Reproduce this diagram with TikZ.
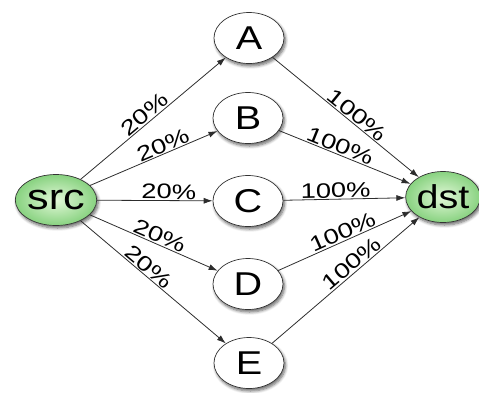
\documentclass[tikz,border=0pt]{standalone}
\usepackage{fontspec}
\setmainfont{Liberation Sans}
\newfontfamily\nodefont[FakeStretch=1.2]{Liberation Sans}
\newfontfamily\lblfont[FakeStretch=1.3]{Liberation Sans}
\usetikzlibrary{shapes.geometric, arrows.meta, shadows.blur}

\definecolor{gin}{RGB}{226,248,216}
\definecolor{gout}{RGB}{136,210,128}
\definecolor{edgegray}{RGB}{45,45,45}

\begin{document}
\begin{tikzpicture}[x=1pt, y=-1pt,
  vertex/.style={ellipse, draw=black!80, line width=0.7pt,
    minimum width=70pt, minimum height=51pt, inner sep=0pt, fill=white,
    blur shadow={shadow xshift=1.5pt, shadow yshift=-2.5pt,
      shadow blur steps=6, shadow blur radius=3pt, shadow opacity=60},
    font=\nodefont\fontsize{33}{33}\selectfont},
  endpoint/.style={vertex, inner color=gin, outer color=gout},
  flow/.style={draw=edgegray, line width=0.8pt, -{Latex[length=9pt, width=6pt]}},
  pct/.style={sloped, above, inner sep=1pt,
    font=\lblfont\fontsize{21}{21}\selectfont}
]
\useasboundingbox (0,0) rectangle (479,392);

% source and sink
\node[endpoint, font=\nodefont\fontsize{36}{36}\selectfont] (src) at (56,200) {src};
\node[endpoint] (dst) at (443,197) {dst};

% intermediate nodes
\node[vertex] (A) at (249,38)  {A};
\node[vertex] (B) at (248,118) {B};
\node[vertex] (C) at (248,201) {C};
\node[vertex] (D) at (248,284) {D};
\node[vertex] (E) at (249,363) {E};

% split from the source
\draw[flow] (src) -- node[pct, pos=0.48] {20\%} (A);
\draw[flow] (src) -- node[pct, pos=0.60] {20\%} (B);
\draw[flow] (src) -- node[pct, pos=0.62] {20\%} (C);
\draw[flow] (src) -- node[pct, pos=0.52] {20\%} (D);
\draw[flow] (src) -- node[pct, pos=0.43] {20\%} (E);

% merge into the sink
\draw[flow] (A) -- node[pct, pos=0.54] {100\%} (dst);
\draw[flow] (B) -- node[pct, pos=0.44] {100\%} (dst);
\draw[flow] (C) -- node[pct, pos=0.43] {100\%} (dst);
\draw[flow] (D) -- node[pct, pos=0.51] {100\%} (dst);
\draw[flow] (E) -- node[pct, pos=0.58] {100\%} (dst);
\end{tikzpicture}
\end{document}
